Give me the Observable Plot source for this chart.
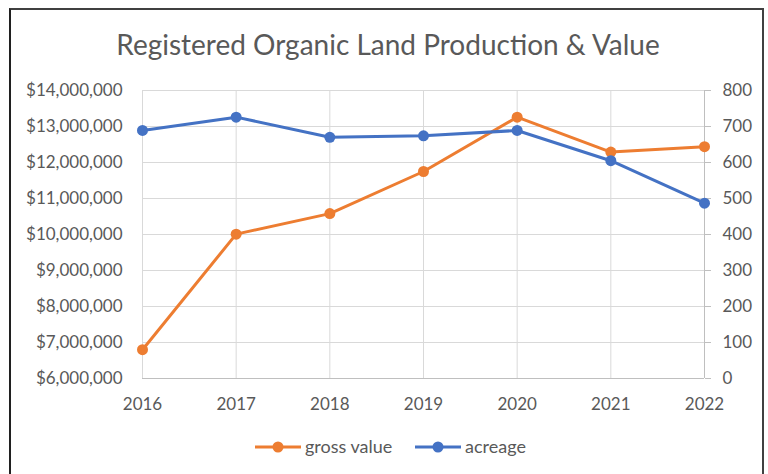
<!DOCTYPE html>
<html>
<head>
<meta charset="utf-8">
<script src="https://cdn.jsdelivr.net/npm/d3@7"></script>
<script src="https://cdn.jsdelivr.net/npm/@observablehq/plot@0.6"></script>
<style>
  body { margin: 0; background: #fff; }
  #wrap { position: relative; width: 768px; height: 474px; overflow: hidden; font-family: Lato, "Open Sans", sans-serif; background: #fff; }
  #frame { position: absolute; left: 9px; top: 8px; width: 755px; height: 480px; border: 2px solid #404040; border-left-color: #202020; box-sizing: border-box; }
  #title { position: absolute; top: 27px; left: 0; width: 776px; text-align: center; font-size: 28px; color: #595959; }
  #chart { position: absolute; left: 0; top: 0; }
  #legend { position: absolute; left: 0; top: 434px; width: 768px; height: 26px; }
</style>
</head>
<body>
<div id="wrap">
  <div id="frame"></div>
  <div id="title">Registered Organic Land Production &amp; Value</div>
  <div id="chart"></div>
  <div id="legend"></div>
</div>
<script>
const years = [2016, 2017, 2018, 2019, 2020, 2021, 2022];
const grossValue = [6800000, 10010000, 10580000, 11750000, 13260000, 12290000, 12440000];
const acreage = [689, 726, 670, 674, 689, 605, 487];
const leftTicks = [6000000, 7000000, 8000000, 9000000, 10000000, 11000000, 12000000, 13000000, 14000000];
const rightTicks = [0, 100, 200, 300, 400, 500, 600, 700, 800];
const seriesNames = ["gross value", "acreage"];
const seriesColors = ["#ED7D31", "#4472C4"];

// map acreage (right axis 0..800) onto the left-axis scale (6M..14M)
const toLeft = a => 6000000 + a * 10000;
const fromLeft = v => (v - 6000000) / 10000;

const grossData = years.map((y, i) => ({year: y, value: grossValue[i]}));
const acreData = years.map((y, i) => ({year: y, value: toLeft(acreage[i])}));

const fmtMoney = d => "$" + d3.format(",")(d);

const chart = Plot.plot({
  width: 768,
  height: 474,
  marginTop: 90,
  marginBottom: 96,
  marginLeft: 142,
  marginRight: 64,
  style: {fontFamily: "Lato, 'Open Sans', sans-serif", fontSize: "17px", color: "#595959", background: "transparent"},
  x: {domain: [2016, 2022]},
  y: {domain: [6000000, 14000000]},
  marks: [
    Plot.gridY(leftTicks, {stroke: "#d9d9d9", strokeOpacity: 1, strokeWidth: 1}),
    Plot.gridX(years, {stroke: "#d9d9d9", strokeOpacity: 1, strokeWidth: 1}),
    Plot.ruleY([6000000], {stroke: "#bfbfbf", strokeWidth: 1}),
    Plot.ruleX([2022], {stroke: "#bfbfbf", strokeWidth: 1}),
    Plot.axisY(leftTicks, {anchor: "left", tickSize: 0, tickPadding: 20, tickFormat: fmtMoney, fill: "#595959", label: null}),
    Plot.axisY(rightTicks.map(toLeft), {anchor: "right", tickSize: 6, tickPadding: 12, stroke: "#bfbfbf", tickFormat: d => String(Math.round(fromLeft(d))), fill: "#595959", label: null}),
    Plot.axisX(years, {anchor: "bottom", tickSize: 0, tickPadding: 19, tickFormat: d => String(d), fill: "#595959", label: null}),
    Plot.line(grossData, {x: "year", y: "value", stroke: seriesColors[0], strokeWidth: 3}),
    Plot.line(acreData, {x: "year", y: "value", stroke: seriesColors[1], strokeWidth: 3}),
    Plot.dot(grossData, {x: "year", y: "value", fill: seriesColors[0], r: 5.5}),
    Plot.dot(acreData, {x: "year", y: "value", fill: seriesColors[1], r: 5.5})
  ]
});
document.getElementById("chart").appendChild(chart);

// legend
const lg = d3.select("#legend").append("svg").attr("width", 768).attr("height", 26)
  .style("font-family", "Lato, 'Open Sans', sans-serif").style("font-size", "18px");
const legendX = [255, 415];
seriesNames.forEach((name, i) => {
  const g = lg.append("g").attr("transform", `translate(${legendX[i]},13)`);
  g.append("line").attr("x1", 0).attr("x2", 46).attr("y1", 0).attr("y2", 0)
    .attr("stroke", seriesColors[i]).attr("stroke-width", 3);
  g.append("circle").attr("cx", 23).attr("cy", 0).attr("r", 5.5).attr("fill", seriesColors[i]);
  g.append("text").attr("x", 50).attr("y", 0).attr("dy", "0.35em").attr("fill", "#595959").text(name);
});
</script>
</body>
</html>
